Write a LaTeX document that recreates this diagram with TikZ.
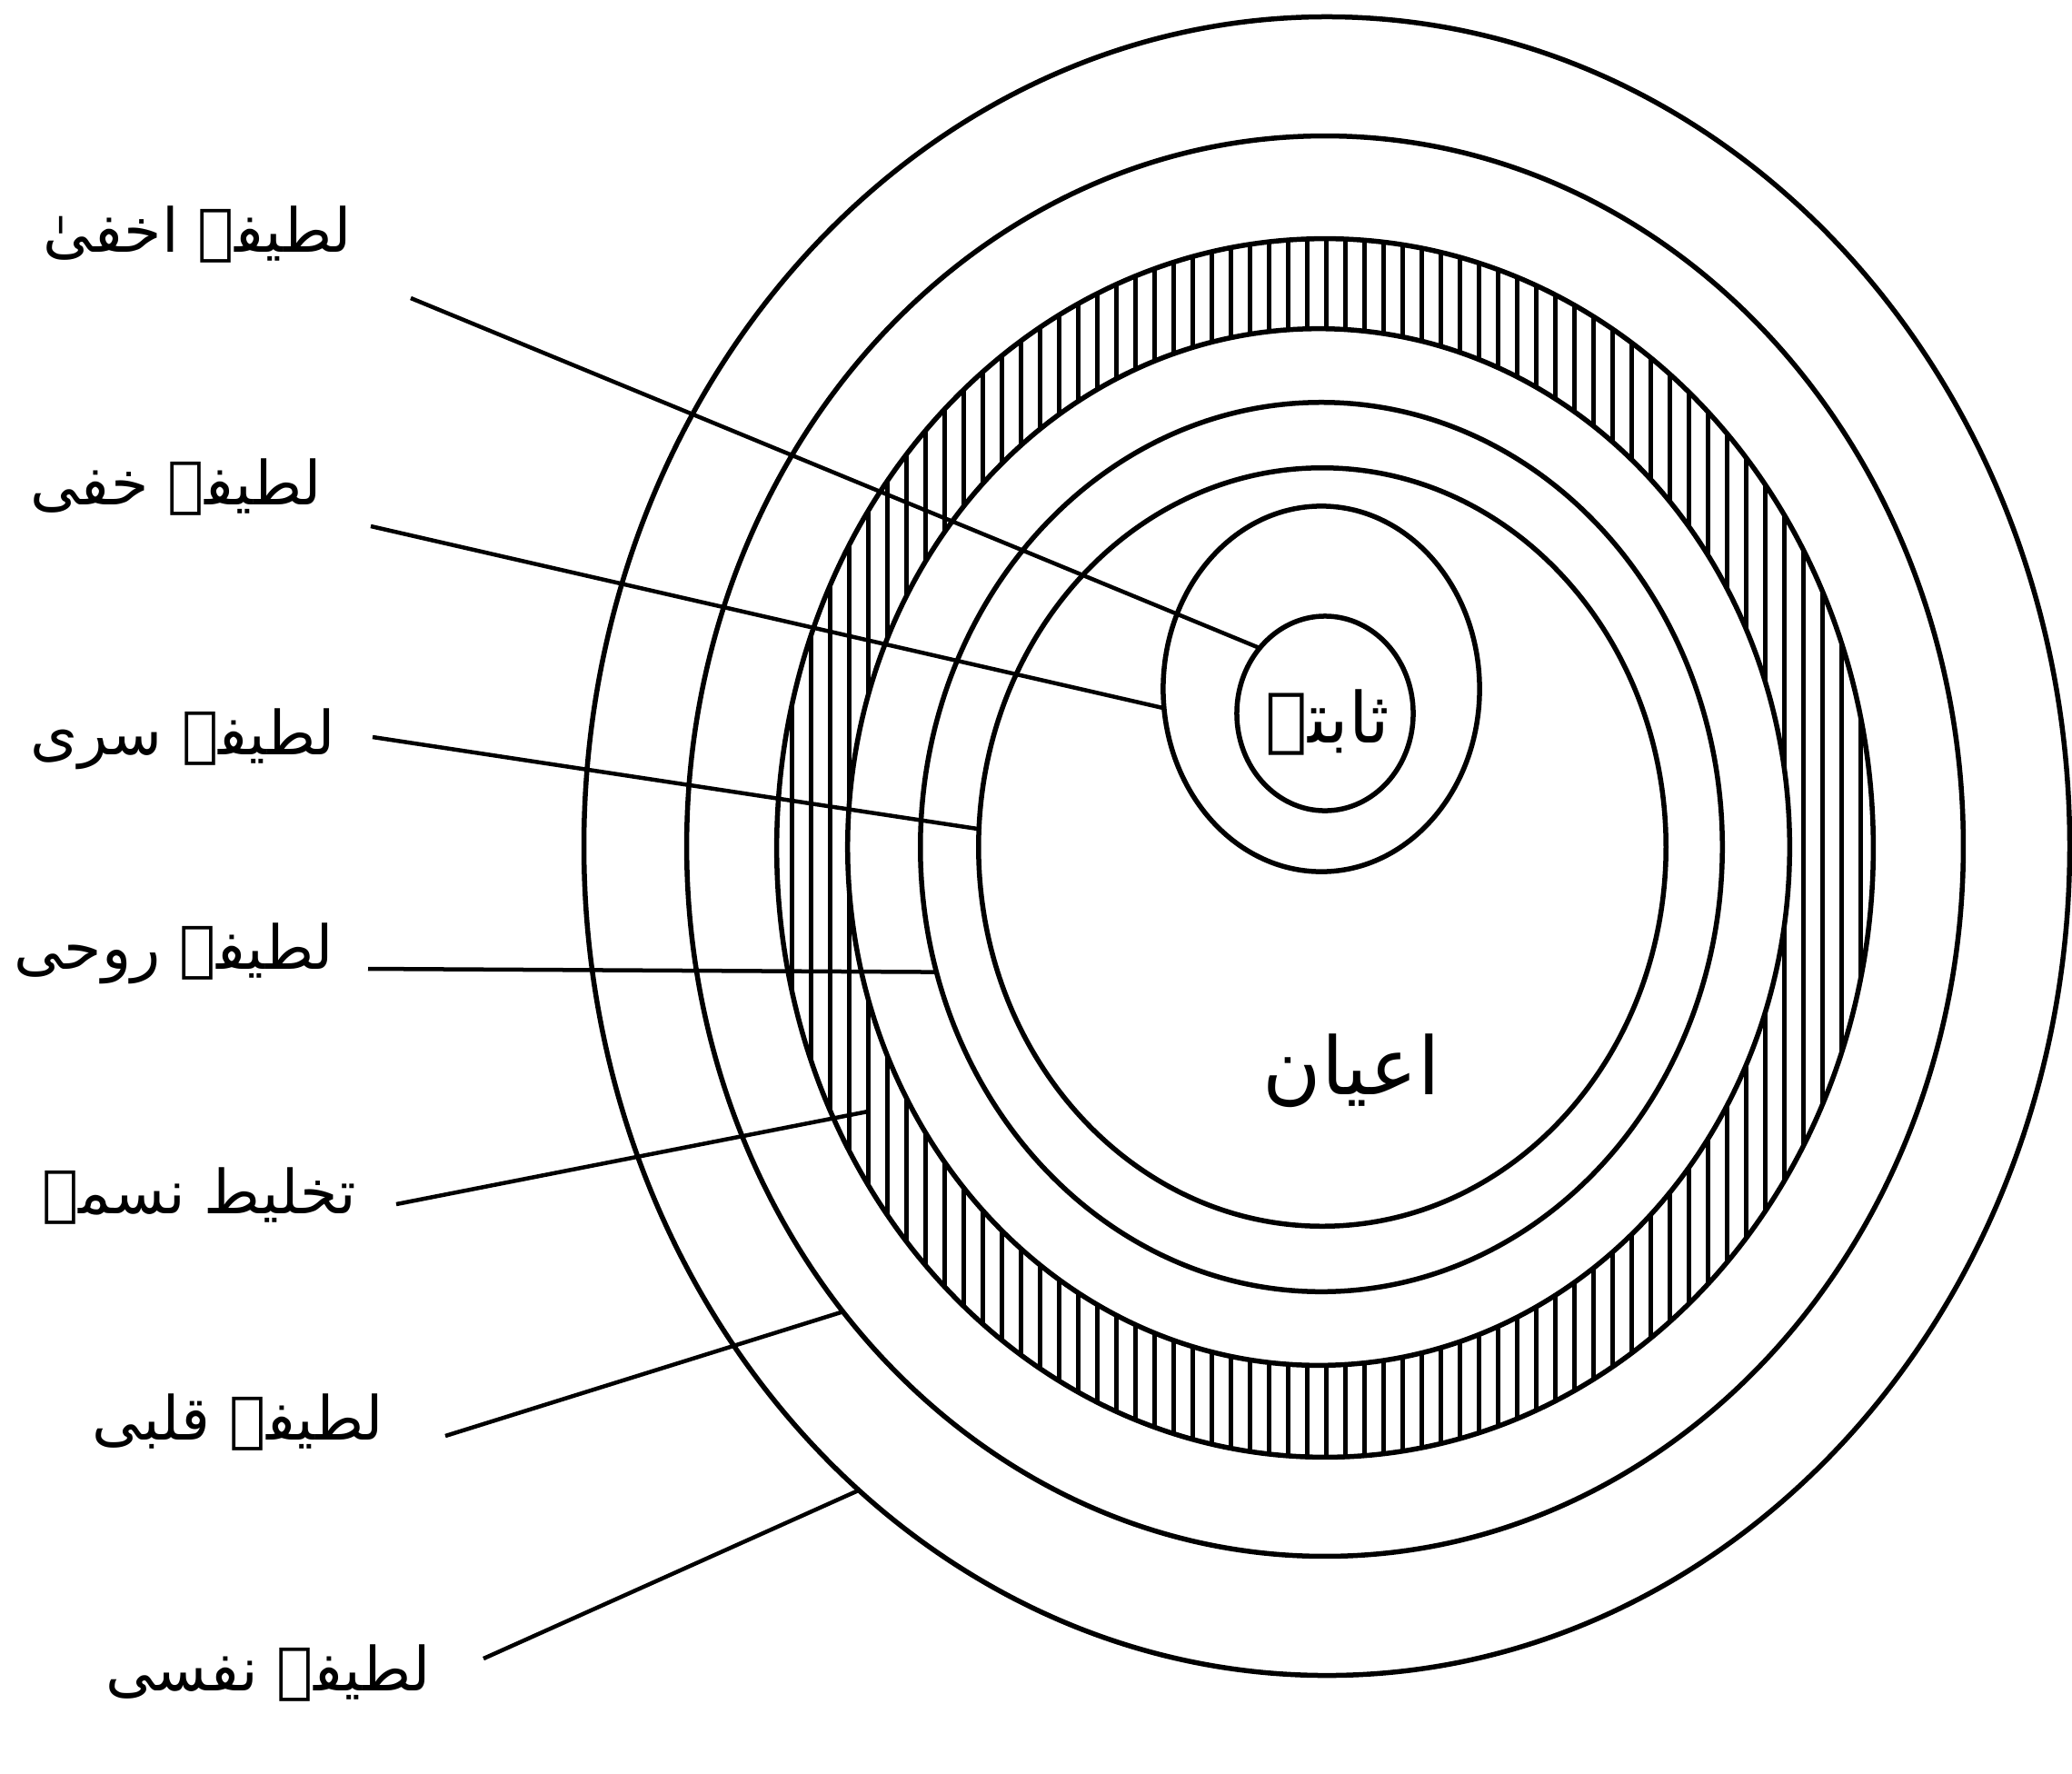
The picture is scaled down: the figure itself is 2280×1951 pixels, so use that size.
\documentclass[tikz,border=0pt]{standalone}
\usepackage{fontspec}
\newfontfamily\urdufont[Script=Arabic]{DejaVu Sans}
\TeXXeTstate=1
\usepackage{tikz}
\usetikzlibrary{shapes.geometric,positioning}

\begin{document}
\begin{tikzpicture}[
  x=0.01cm, y=-0.01cm,
  ring/.style={ellipse, draw, line width=0.055cm, inner sep=0pt, outer sep=0pt},
  lead/.style={line width=0.045cm},
  hatch/.style={line width=0.05cm},
  lbl/.style={font=\urdufont\fontsize{19}{23}\selectfont, inner sep=0pt, anchor=east},
  core/.style={font=\urdufont\fontsize{22}{26}\selectfont, inner sep=0pt},
]
  \useasboundingbox (0,0) rectangle (2280,1951);

  % outer rings
  \node[ring, minimum width=16.34cm, minimum height=18.24cm] (e1) at (1460,931) {};
  \node[ring, minimum width=14.04cm, minimum height=15.62cm] (e2) at (1458,931) {};
  \node[ring, minimum width=12.06cm, minimum height=13.40cm] (hout) at (1458,933) {};

  % hatched band
  \begin{scope}
    \clip (1458,933) ellipse [x radius=6.03cm, y radius=6.70cm];
    \foreach \x in {850,871,...,2070}
      \draw[hatch] (\x,250) -- (\x,1620);
  \end{scope}
  \node[ring, fill=white, minimum width=10.36cm, minimum height=11.40cm] (hin) at (1451,932) {};

  % inner rings
  \node[ring, minimum width=8.82cm, minimum height=9.78cm] (e6) at (1454,932) {};
  \node[ring, minimum width=7.56cm, minimum height=8.34cm] (e7) at (1455,932) {};
  \node[ring, minimum width=3.48cm, minimum height=4.02cm] (e8) at (1454,758) {};
  \node[ring, minimum width=1.94cm, minimum height=2.14cm] (e9) at (1458,785) {};

  \node[core] (thabita) at (1461,795) {\beginR ثابتہ\endR};
  \node[core, font=\urdufont\fontsize{25}{30}\selectfont] (ayan) at (1487,1178) {\beginR اعیان\endR};

  % labels
  \node[lbl] (l1) at (388,258) {\beginR لطیفہ اخفیٰ\endR};
  \node[lbl] (l2) at (355,536) {\beginR لطیفہ خفی\endR};
  \node[lbl] (l3) at (370,813) {\beginR لطیفہ سری\endR};
  \node[lbl] (l4) at (368,1049) {\beginR لطیفہ روحی\endR};
  \node[lbl] (l5) at (393,1316) {\beginR تخلیط نسمہ\endR};
  \node[lbl] (l6) at (423,1565) {\beginR لطیفہ قلبی\endR};
  \node[lbl] (l7) at (475,1841) {\beginR لطیفہ نفسی\endR};

  \coordinate (s1) at (452,328);
  \coordinate (s2) at (408,579);
  \coordinate (s3) at (410,811);
  \coordinate (s4) at (405,1066);
  \coordinate (s5) at (436,1325);
  \coordinate (s6) at (490,1580);
  \coordinate (s7) at (532,1825);
  \coordinate (t5) at (955,1223);

  \draw[lead] (s1) -- (e9.135);
  \draw[lead] (s2) -- (e8.187);
  \draw[lead] (s3) -- (e7.177);
  \draw[lead] (s4) -- (e6.198);
  \draw[lead] (s5) -- (t5);
  \draw[lead] (s6) -- (e2.224);
  \draw[lead] (s7) -- (e1.234);
\end{tikzpicture}
\end{document}
